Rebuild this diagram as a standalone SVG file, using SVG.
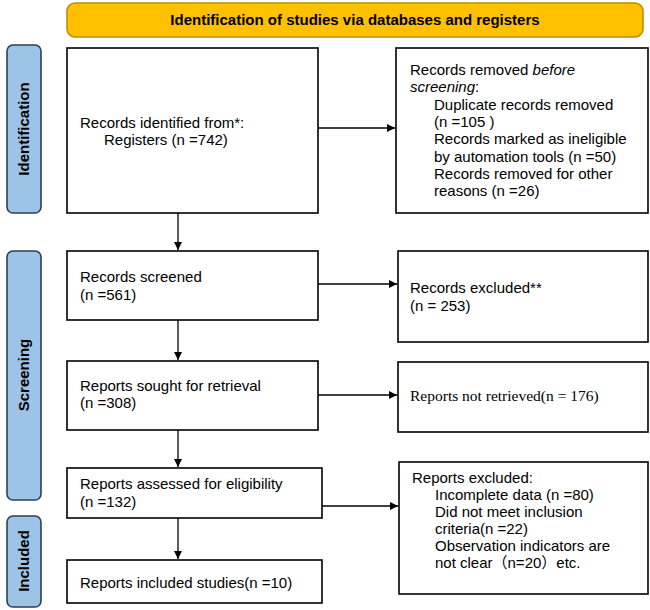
<svg xmlns="http://www.w3.org/2000/svg" width="650" height="610" viewBox="0 0 650 610">
<defs>
<marker id="ah" viewBox="0 0 10 10" refX="10" refY="5" markerWidth="8" markerHeight="8" markerUnits="userSpaceOnUse" orient="auto">
<path d="M0,0 L10,5 L0,10 z" fill="#000"/>
</marker>
</defs>
<style>
.box{fill:#fff;stroke:#000;stroke-width:1.6}
.side{fill:#9DC3E6;stroke:#2F3F55;stroke-width:1.6}
.t{font-family:"Liberation Sans",Arial,"Noto Sans CJK SC",sans-serif;font-size:15px;fill:#000}
.s{font-family:"Liberation Serif","Times New Roman",serif;font-size:15.5px;fill:#000}
.b{font-family:"Liberation Sans",Arial,sans-serif;font-size:15px;font-weight:bold;fill:#000}
.c{stroke:#000;stroke-width:1.3;fill:none;marker-end:url(#ah)}
</style>
<g id="banner">
<rect x="67" y="3" width="576" height="34" rx="8" fill="#FFC000" stroke="#BF9000" stroke-width="1.6"/>
<text class="b" x="355" y="25" text-anchor="middle">Identification of studies via databases and registers</text>
</g>
<g id="lbl-identification">
<rect class="side" x="7" y="45" width="34" height="168" rx="6"/>
<text class="b" transform="translate(29,129) rotate(-90)" text-anchor="middle">Identification</text>
</g>
<g id="lbl-screening">
<rect class="side" x="7" y="251" width="34" height="249" rx="6"/>
<text class="b" transform="translate(29,375) rotate(-90)" text-anchor="middle">Screening</text>
</g>
<g id="lbl-included">
<rect class="side" x="7" y="516" width="34" height="91" rx="6"/>
<text class="b" transform="translate(29,561) rotate(-90)" text-anchor="middle">Included</text>
</g>
<g id="identified">
<rect class="box" x="67" y="48" width="251" height="165"/>
<text class="t" x="80" y="128">Records identified from*:</text>
<text class="t" x="104" y="145">Registers (n =742)</text>
</g>
<g id="removed">
<rect class="box" x="396" y="48" width="252" height="165"/>
<text class="t" x="410" y="75">Records removed <tspan font-style="italic">before</tspan></text>
<text class="t" x="410" y="92"><tspan font-style="italic">screening</tspan>:</text>
<text class="t" x="434" y="110">Duplicate records removed</text>
<text class="t" x="434" y="127">(n =105 )</text>
<text class="t" x="434" y="144">Records marked as ineligible</text>
<text class="t" x="434" y="162">by automation tools (n =50)</text>
<text class="t" x="434" y="179">Records removed for other</text>
<text class="t" x="434" y="196">reasons (n =26)</text>
</g>
<g id="screened">
<rect class="box" x="67" y="251" width="251" height="69"/>
<text class="t" x="80" y="282">Records screened</text>
<text class="t" x="80" y="300">(n =561)</text>
</g>
<g id="excluded">
<rect class="box" x="398" y="251" width="250" height="91"/>
<text class="t" x="410" y="293">Records excluded**</text>
<text class="t" x="410" y="311">(n = 253)</text>
</g>
<g id="sought">
<rect class="box" x="67" y="361" width="251" height="69"/>
<text class="t" x="80" y="391">Reports sought for retrieval</text>
<text class="t" x="80" y="408">(n =308)</text>
</g>
<g id="notretrieved">
<rect class="box" x="398" y="362" width="250" height="70"/>
<text class="s" x="410" y="401">Reports not retrieved(n = 176)</text>
</g>
<g id="assessed">
<rect class="box" x="67" y="468" width="255" height="50"/>
<text class="t" x="80" y="489">Reports assessed for eligibility</text>
<text class="t" x="80" y="507">(n =132)</text>
</g>
<g id="reportsexcluded">
<rect class="box" x="399" y="462" width="249" height="132"/>
<text class="t" x="412" y="483">Reports excluded:</text>
<text class="t" x="435" y="500">Incomplete data (n =80)</text>
<text class="t" x="435" y="517">Did not meet inclusion</text>
<text class="t" x="435" y="534">criteria(n =22)</text>
<text class="t" x="435" y="551">Observation indicators are</text>
<text class="t" x="435" y="568">not clear（n=20）etc.</text>
</g>
<g id="included">
<rect class="box" x="67" y="560" width="255" height="43"/>
<text class="t" x="80" y="588">Reports included studies(n =10)</text>
</g>
<g id="connectors">
<line class="c" x1="178" y1="213" x2="178" y2="250"/>
<line class="c" x1="178" y1="320" x2="178" y2="360"/>
<line class="c" x1="178" y1="430" x2="178" y2="467"/>
<line class="c" x1="178" y1="518" x2="178" y2="559"/>
<line class="c" x1="318" y1="128" x2="395" y2="128"/>
<line class="c" x1="318" y1="284" x2="397" y2="284"/>
<line class="c" x1="318" y1="395" x2="397" y2="395"/>
<line class="c" x1="322" y1="506" x2="398" y2="506"/>
</g>
</svg>
